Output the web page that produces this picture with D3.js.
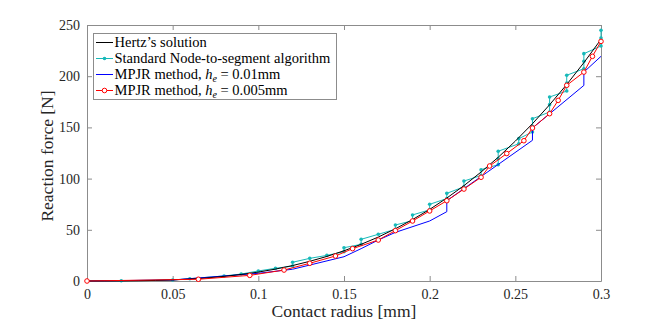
<!DOCTYPE html>
<html><head><meta charset="utf-8">
<script src="https://cdn.jsdelivr.net/npm/d3@7"></script>
<style>body{margin:0;background:#fff}svg{display:block}</style>
</head><body>
<script>
// Data
const xTicks = [0, 0.05, 0.1, 0.15, 0.2, 0.25, 0.3];
const xTickLabels = ["0", "0.05", "0.1", "0.15", "0.2", "0.25", "0.3"];
const yTicks = [0, 50, 100, 150, 200, 250];
const yTickLabels = ["0", "50", "100", "150", "200", "250"];

const hertzR = [0,0.01,0.02,0.03,0.04,0.05,0.06,0.07,0.08,0.09,0.1,0.11,0.12,0.13,0.14,0.15,0.16,0.17,0.18,0.19,0.2,0.21,0.22,0.23,0.24,0.25,0.26,0.27,0.28,0.29,0.3];
const hertzF = [0,0.01,0.07,0.24,0.56,1.09,1.89,3.0,4.5,6.4,8.7,11.6,15.1,19.2,24.0,29.5,35.8,42.9,51.0,60.0,69.9,81.0,93.1,106.4,120.8,136.6,153.6,172.1,191.9,213.2,236.0];

const ntsR = [0,0.02,0.05,0.06,0.08,0.09,0.1,0.11,0.12,0.12,0.13,0.14,0.15,0.15,0.16,0.16,0.17,0.18,0.18,0.19,0.19,0.2,0.2,0.21,0.21,0.22,0.22,0.23,0.23,0.24,0.24,0.24,0.252,0.252,0.26,0.26,0.26,0.27,0.27,0.27,0.28,0.28,0.28,0.29,0.29,0.29,0.3,0.3,0.3];
const ntsF = [0,0.3,1.0,2.2,4.9,6.8,9.8,12.4,14.6,18.3,22.1,25.0,28.6,32.5,35.8,40.7,45.6,50.5,54.7,58.9,64.5,69.5,74.9,80.5,85.6,92.0,97.6,103.0,108.7,113.6,119.4,126.7,134.0,139.0,145.5,151.0,158.5,165.0,172.2,179.7,185.5,193.4,200.9,207.3,214.5,222.0,229.5,237.3,244.8];

const mp1R = [0,0.05,0.1,0.12,0.15,0.16,0.17,0.18,0.2,0.21,0.21,0.26,0.26,0.29,0.29,0.3];
const mp1F = [0,1.0,7.5,11.5,23.7,31.6,40.0,47.5,58.6,67.7,78.4,137.4,149.4,191.0,204.0,219.4];

const mp2R = [0,0.065,0.095,0.115,0.13,0.145,0.155,0.17,0.18,0.19,0.2,0.21,0.22,0.23,0.235,0.245,0.255,0.26,0.27,0.275,0.28,0.29,0.295,0.3];
const mp2F = [0,1.7,5.5,10.7,17.3,24.4,31.6,40.0,49.2,58.6,68.4,78.4,89.8,101.3,112.3,124.5,137.0,149.4,163.4,176.4,191.1,204.0,219.4,234.0];

const W = 664, H = 324;
const FONT = "'Liberation Serif', 'Times New Roman', serif";
const svg = d3.select("body").append("svg").attr("width", W).attr("height", H)
  .style("font-family", FONT);

const x = d3.scaleLinear().domain([0, 0.3]).range([87, 601]);
const y = d3.scaleLinear().domain([0, 250]).range([281, 25]);
const axisColor = "#8c8c8c";

function styleAxis(g) {
  g.select(".domain").attr("stroke", axisColor);
  g.selectAll(".tick line").attr("stroke", axisColor);
  g.selectAll(".tick text").attr("fill", "#262626").style("font-size", "14px")
   .style("font-family", FONT);
}
svg.append("g").attr("transform", "translate(0,281)")
  .call(d3.axisBottom(x).tickValues(xTicks).tickFormat((d, i) => xTickLabels[i]).tickSizeInner(-5).tickSizeOuter(0).tickPadding(8))
  .call(styleAxis);
svg.append("g").attr("transform", "translate(0,25)")
  .call(d3.axisTop(x).tickValues(xTicks).tickFormat("").tickSizeInner(-5).tickSizeOuter(0))
  .call(styleAxis);
svg.append("g").attr("transform", "translate(87,0)")
  .call(d3.axisLeft(y).tickValues(yTicks).tickFormat((d, i) => yTickLabels[i]).tickSizeInner(-5).tickSizeOuter(0).tickPadding(7))
  .call(styleAxis);
svg.append("g").attr("transform", "translate(601,0)")
  .call(d3.axisRight(y).tickValues(yTicks).tickFormat("").tickSizeInner(-5).tickSizeOuter(0))
  .call(styleAxis);

const line = d3.line().x(d => x(d[0])).y(d => y(d[1]));
const zip = (a, b) => a.map((v, i) => [v, b[i]]);

const cyan = "#17b9b9", blue = "#0000ff", red = "#ff0000";
const hertz = zip(hertzR, hertzF), nts = zip(ntsR, ntsF), mp1 = zip(mp1R, mp1F), mp2 = zip(mp2R, mp2F);

svg.append("path").attr("d", line(nts)).attr("fill", "none").attr("stroke", cyan).attr("stroke-width", 1);
svg.append("g").selectAll("circle").data(nts).join("circle")
  .attr("cx", d => x(d[0])).attr("cy", d => y(d[1])).attr("r", 1.8).attr("fill", cyan);
svg.append("path").attr("d", line(mp1)).attr("fill", "none").attr("stroke", blue).attr("stroke-width", 1);
svg.append("path").attr("d", line(hertz)).attr("fill", "none").attr("stroke", "#000").attr("stroke-width", 1);
svg.append("path").attr("d", line(mp2)).attr("fill", "none").attr("stroke", red).attr("stroke-width", 1);
svg.append("g").selectAll("circle").data(mp2).join("circle")
  .attr("cx", d => x(d[0])).attr("cy", d => y(d[1])).attr("r", 2.3)
  .attr("fill", "#fff").attr("stroke", red).attr("stroke-width", 1);

svg.append("text").attr("x", x(0.15)).attr("y", 317).attr("text-anchor", "middle")
  .style("font-size", "17.5px").attr("fill", "#262626").text("Contact radius [mm]");
svg.append("text").attr("transform", "translate(53,156) rotate(-90)").attr("text-anchor", "middle")
  .style("font-size", "17.5px").attr("fill", "#262626").text("Reaction force [N]");

const lg = svg.append("g");
lg.append("rect").attr("x", 93.5).attr("y", 33.5).attr("width", 243).attr("height", 66)
  .attr("fill", "#fff").attr("stroke", axisColor);
const entries = [
  {c: "#000", t: ["Hertz\u2019s solution"], m: null},
  {c: cyan, t: ["Standard Node-to-segment algorithm"], m: "dot"},
  {c: blue, t: ["MPJR method, ", "h", "e", " = 0.01mm"], m: null},
  {c: red, t: ["MPJR method, ", "h", "e", " = 0.005mm"], m: "circ"}
];
entries.forEach((e, i) => {
  const yy = 42.5 + i * 16;
  lg.append("line").attr("x1", 96).attr("x2", 113).attr("y1", yy).attr("y2", yy).attr("stroke", e.c).attr("stroke-width", 1);
  if (e.m === "dot") lg.append("circle").attr("cx", 104.5).attr("cy", yy).attr("r", 1.8).attr("fill", e.c);
  if (e.m === "circ") lg.append("circle").attr("cx", 104.5).attr("cy", yy).attr("r", 2.3).attr("fill", "#fff").attr("stroke", e.c);
  const tx = lg.append("text").attr("x", 114.5).attr("y", yy + 4.5).style("font-size", "14.5px").attr("fill", "#000");
  if (e.t.length === 1) tx.text(e.t[0]);
  else {
    tx.append("tspan").text(e.t[0]);
    tx.append("tspan").style("font-style", "italic").text(e.t[1]);
    tx.append("tspan").attr("dy", 3).style("font-size", "10px").style("font-style", "italic").text(e.t[2]);
    tx.append("tspan").attr("dy", -3).text(e.t[3]);
  }
});
</script>
</body></html>
